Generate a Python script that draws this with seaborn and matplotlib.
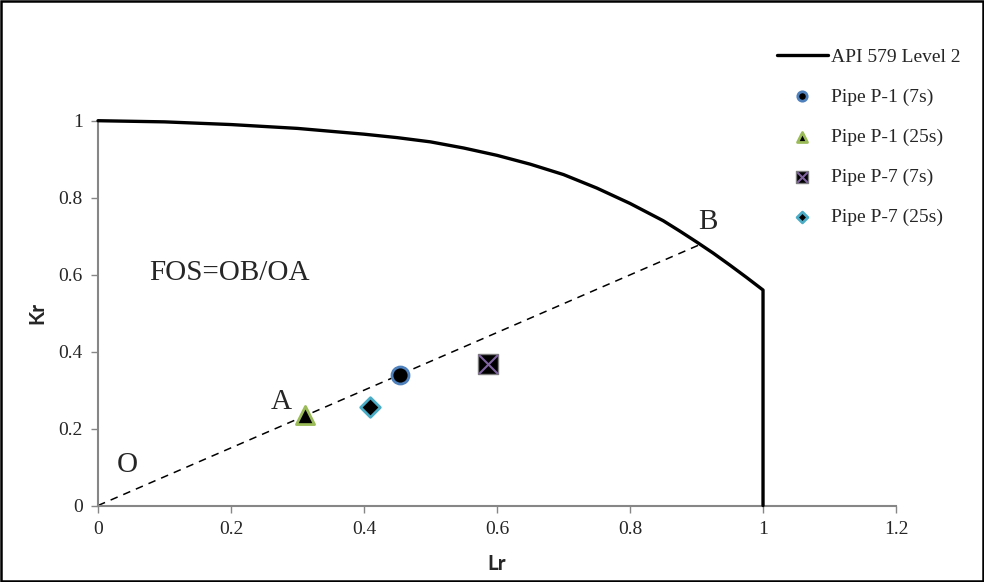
import matplotlib
matplotlib.use("Agg")
import matplotlib.pyplot as plt
import seaborn as sns
import pandas as pd
from matplotlib.patches import Rectangle
from matplotlib.ticker import FuncFormatter

# failure assessment curve (API 579 Level 2)
fad_lr = [0, 0.1, 0.2, 0.3, 0.4, 0.45, 0.5, 0.55, 0.6, 0.65, 0.7, 0.75, 0.8,
          0.85, 0.875, 0.9, 0.925, 0.95, 0.975, 1.0, 1.0]
fad_kr = [1.0, 0.997, 0.99, 0.98, 0.965, 0.956, 0.945, 0.929, 0.91, 0.887, 0.86, 0.825, 0.785,
          0.74, 0.713, 0.685, 0.656, 0.625, 0.593, 0.56, 0.0]

# assessment points
pipe_names = ["Pipe P-1 (7s)", "Pipe P-1 (25s)", "Pipe P-7 (7s)", "Pipe P-7 (25s)"]
pipe_lr = [0.454, 0.311, 0.586, 0.409]
pipe_kr = [0.340, 0.236, 0.368, 0.257]

# load line O -> B
load_lr = [0, 0.905]
load_kr = [0, 0.678]

x_ticks = [0, 0.2, 0.4, 0.6, 0.8, 1.0, 1.2]
y_ticks = [0, 0.2, 0.4, 0.6, 0.8, 1.0]

sns.set_style("white")
plt.rcParams["font.family"] = ["Liberation Serif", "DejaVu Serif"]

fig = plt.figure(figsize=(9.84, 5.82), dpi=100)
ax = fig.add_axes([0.0996, 0.1314, 0.811, 0.6612])

fad = pd.DataFrame({"Lr": fad_lr, "Kr": fad_kr})
sns.lineplot(data=fad, x="Lr", y="Kr", sort=False, estimator=None, color="black",
             linewidth=2.4, label="API 579 Level 2", ax=ax, clip_on=False, zorder=3)

sns.lineplot(x=load_lr, y=load_kr, sort=False, estimator=None, color="black",
             linewidth=1.1, linestyle=(0, (5, 4)), ax=ax, zorder=2)

styles = [("o", "#4F81BD", 150, 2), ("^", "#9BBB59", 170, 2),
          ("s", "#7F7F7F", 220, 1), ("D", "#4BACC6", 100, 2)]
handles = []
for name, lr, kr, (mk, ec, sz, lw) in zip(pipe_names, pipe_lr, pipe_kr, styles):
    sns.scatterplot(x=[lr], y=[kr], marker=mk, s=sz, color="black", edgecolor=ec,
                    linewidth=lw, ax=ax, zorder=4)
    h = ax.collections[-1]
    if mk == "s":
        sns.scatterplot(x=[lr], y=[kr], marker="x", s=190, color="#8064A2",
                        linewidth=1.5, ax=ax, zorder=5)
        h = (h, ax.collections[-1])
    handles.append(h)

ax.set_xlim(0, 1.2)
ax.set_ylim(0, 1)
ax.set_xticks(x_ticks)
ax.set_yticks(y_ticks)
fmt = FuncFormatter(lambda v, p: "%g" % v)
ax.xaxis.set_major_formatter(fmt)
ax.yaxis.set_major_formatter(fmt)
ax.tick_params(axis="both", direction="out", length=5, width=1, color="#868686",
               labelsize=14, pad=6, bottom=True, left=True)
for s in ["top", "right"]:
    ax.spines[s].set_visible(False)
for s in ["left", "bottom"]:
    ax.spines[s].set_color("#868686")
    ax.spines[s].set_linewidth(1.5)

ax.set_xlabel("Lr", family=["Lato", "DejaVu Sans"], fontweight="bold", fontsize=15, labelpad=12)
ax.set_ylabel("Kr", family=["Lato", "DejaVu Sans"], fontweight="bold", fontsize=15, labelpad=8)

ax.text(0.198, 0.605, "FOS=OB/OA", fontsize=21, ha="center", va="center")
ax.text(0.044, 0.105, "O", fontsize=21, ha="center", va="center")
ax.text(0.276, 0.27, "A", fontsize=21, ha="center", va="center")
ax.text(0.917, 0.738, "B", fontsize=21, ha="center", va="center")

line_handle = ax.get_lines()[0]
ax.legend([line_handle] + handles, ["API 579 Level 2"] + pipe_names,
          loc="upper left", bbox_to_anchor=(777 / 984, 1 - 48 / 582),
          bbox_transform=fig.transFigure, frameon=False, fontsize=14,
          markerscale=0.55, handlelength=2.6, handletextpad=0.2,
          labelspacing=1.15, borderpad=0, borderaxespad=0)

fig.patches.append(Rectangle((0.001, 0.001), 0.998, 0.997, transform=fig.transFigure,
                             fill=False, edgecolor="black", linewidth=1.8))

fig.savefig("out.png", dpi=100)
